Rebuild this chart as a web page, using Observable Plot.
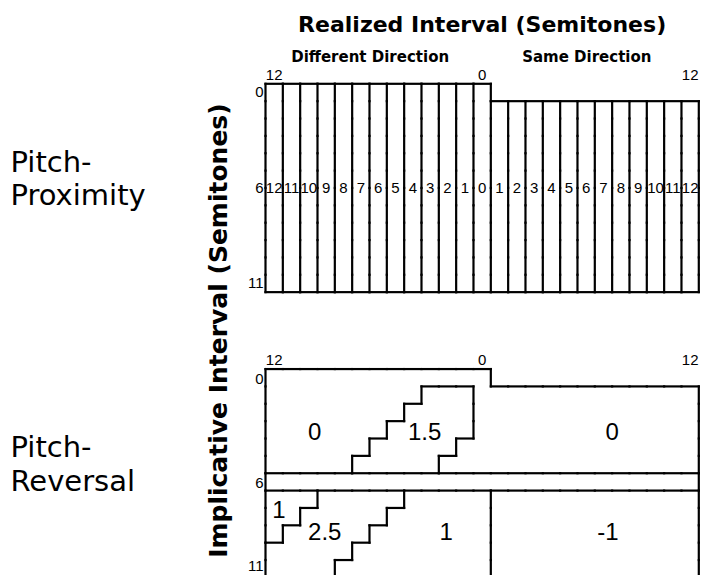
<!DOCTYPE html>
<html>
<head>
<meta charset="utf-8">
<script src="https://cdn.jsdelivr.net/npm/d3@7"></script>
<script src="https://cdn.jsdelivr.net/npm/@observablehq/plot@0.6"></script>
<style>
  body { margin: 0; background: #fff; }
</style>
</head>
<body>
<div id="chart"></div>
<script>
// ---------- data ----------
const panels = ["Pitch-Proximity", "Pitch-Reversal"];
const panelLabels = ["Pitch-\nProximity", "Pitch-\nReversal"];
const differentDirection = [12, 11, 10, 9, 8, 7, 6, 5, 4, 3, 2, 1, 0];
const sameDirection = [1, 2, 3, 4, 5, 6, 7, 8, 9, 10, 11, 12];
const implicativeIntervals = [0, 1, 2, 3, 4, 5, 6, 7, 8, 9, 10, 11];
const tritone = 6;

// Pitch-reversal: reversed realized intervals (different direction) earning the bonus
// small implicative intervals 0..5
const smallReversalLo = [null, 1, 1, 1, 2, 3];
const smallReversalHi = [null, 3, 4, 5, 6, 7];
// large implicative intervals 7..11
const largeReversalLo = [5, 6, 7, 8, 9];
const largeReversalHi = [9, 10, 11, 12, 12];
const reversalScores = { smallReversal: "1.5", smallOther: "0", largeReversal: "2.5", largeOther: "1", largeSame: "-1" };

// region value labels (direction, realized interval, implicative interval)
const regionLabelText = ["0", "1.5", "0", "1", "2.5", "1", "-1"];
const regionLabelDir = ["different", "different", "same", "different", "different", "different", "same"];
const regionLabelRealized = [9.66, 3.32, 7.5, 11.73, 9.08, 2.07, 7.25];
const regionLabelImplicative = [3.63, 3.63, 3.63, 8.15, 9.4, 9.4, 9.4];

const xTickDir = ["different", "different", "same"];
const xTickInterval = [12, 0, 12];
const yTickValues = [0, 6, 11];
const directionTitles = ["Different Direction", "Same Direction"];
const directionKeys = ["different", "same"];
const xTitle = "Realized Interval (Semitones)";
const yTitle = "Implicative Interval (Semitones)";

// ---------- layout helpers ----------
const nDiff = differentDirection.length;
const panelGap = 4.43;
const panelTop = { "Pitch-Proximity": 0, "Pitch-Reversal": implicativeIntervals.length + panelGap };
const yMax = 2 * implicativeIntervals.length + panelGap;

const columns = [
  ...differentDirection.map(v => ({ dir: "different", interval: v })),
  ...sameDirection.map(v => ({ dir: "same", interval: v }))
];
columns.forEach((c, k) => (c.k = k));
const xCenter = (dir, v) => (dir === "different" ? nDiff - 0.5 - v : nDiff - 0.5 + v);

function proximityRegion(c, i) {
  if (c.dir === "same" && i === 0) return null;
  return c.dir + c.interval;
}
function reversalRegion(c, i) {
  if (c.dir === "same" && i === 0) return null;
  if (i === tritone) return "gap";
  if (i < tritone) {
    if (c.dir === "same") return reversalScores.smallOther;
    const lo = smallReversalLo[i], hi = smallReversalHi[i];
    return lo != null && c.interval >= lo && c.interval <= hi ? reversalScores.smallReversal : reversalScores.smallOther;
  }
  if (c.dir === "same") return reversalScores.largeSame;
  const j = i - tritone - 1;
  const lo = largeReversalLo[j], hi = largeReversalHi[j];
  return c.interval >= lo && c.interval <= hi ? reversalScores.largeReversal : reversalScores.largeOther;
}

function boundaries(panel, regionFn) {
  const grid = new Map();
  for (const c of columns) for (const i of implicativeIntervals) {
    const r = regionFn(c, i);
    if (r !== null) grid.set(`${c.k},${i}`, String(r));
  }
  const t = panelTop[panel];
  const segs = [];
  for (const [key, r] of grid) {
    const [k, i] = key.split(",").map(Number);
    const right = grid.get(`${k + 1},${i}`), left = grid.get(`${k - 1},${i}`);
    const below = grid.get(`${k},${i + 1}`), above = grid.get(`${k},${i - 1}`);
    if (right !== r) segs.push({ x1: k + 1, x2: k + 1, y1: t + i, y2: t + i + 1 });
    if (left === undefined) segs.push({ x1: k, x2: k, y1: t + i, y2: t + i + 1 });
    if (below !== r) segs.push({ x1: k, x2: k + 1, y1: t + i + 1, y2: t + i + 1 });
    if (above === undefined) segs.push({ x1: k, x2: k + 1, y1: t + i, y2: t + i });
  }
  return segs;
}
const segments = [
  ...boundaries("Pitch-Proximity", proximityRegion),
  ...boundaries("Pitch-Reversal", reversalRegion)
];

const xTicks = panels.flatMap(p => xTickDir.map((d, i) => ({ panel: p, dir: d, interval: xTickInterval[i] })));
const yTicks = panels.flatMap(p => yTickValues.map(v => ({ panel: p, v })));
const regionLabels = regionLabelText.map((t, i) => ({
  text: t, dir: regionLabelDir[i], realized: regionLabelRealized[i], implicative: regionLabelImplicative[i]
}));
const dirTitles = directionTitles.map((t, i) => ({ text: t, dir: directionKeys[i] }));

function yTickPos(d) {
  if (d.panel === "Pitch-Proximity") return panelTop[d.panel] + (d.v === tritone ? d.v : d.v + 0.5);
  return panelTop[d.panel] + d.v + (d.v === 11 ? 0.38 : 0.6);
}

const WORD = "DejaVu Sans, Verdana, sans-serif";

const chart = Plot.plot({
  width: 702,
  height: 575,
  marginLeft: 265,
  marginRight: 3.7,
  marginTop: 83.3,
  marginBottom: -1.9,
  style: { fontFamily: "Liberation Sans, Arial, Helvetica, sans-serif", fontSize: "15px", color: "black", background: "white" },
  x: { domain: [0, columns.length], axis: null },
  y: { domain: [0, yMax], reverse: true, axis: null },
  marks: [
    Plot.link(segments, {
      x1: "x1", y1: "y1", x2: "x2", y2: "y2",
      stroke: "black", strokeWidth: 2.2, strokeLinecap: "square"
    }),
    // pitch-proximity values (realized interval)
    Plot.text(columns, {
      x: c => c.k + 0.5,
      y: () => panelTop["Pitch-Proximity"] + 6,
      text: c => String(c.interval),
      fontSize: 15
    }),
    // pitch-reversal region values
    Plot.text(regionLabels, {
      x: d => xCenter(d.dir, d.realized),
      y: d => panelTop["Pitch-Reversal"] + d.implicative,
      text: "text",
      fontSize: 24
    }),
    // x tick labels
    Plot.text(xTicks, {
      x: d => xCenter(d.dir, d.interval),
      y: d => panelTop[d.panel],
      text: d => String(d.interval),
      lineAnchor: "bottom",
      dy: -4,
      fontSize: 15
    }),
    // y tick labels
    Plot.text(yTicks, {
      x: () => 0,
      y: yTickPos,
      text: d => String(d.v),
      textAnchor: "end",
      dx: -2,
      fontSize: 15
    }),
    // direction titles
    Plot.text(dirTitles, {
      x: d => (d.dir === "different" ? nDiff / 2 : nDiff + sameDirection.length / 2),
      y: () => 0,
      text: "text",
      lineAnchor: "bottom",
      dx: -8,
      dy: -22,
      fontSize: 15,
      fontWeight: "bold",
      fontFamily: WORD
    }),
    // main x title
    Plot.text([xTitle], {
      frameAnchor: "top",
      text: d => d,
      lineAnchor: "bottom",
      dy: -52,
      fontSize: 22,
      fontWeight: "bold",
      fontFamily: WORD
    }),
    // y title
    Plot.text([yTitle], {
      frameAnchor: "left",
      text: d => d,
      rotate: -90,
      textAnchor: "middle",
      lineAnchor: "middle",
      dx: -47,
      fontSize: 25,
      fontWeight: "bold",
      fontFamily: WORD
    }),
    // panel names
    Plot.text(panels, {
      y: p => panelTop[p] + 6,
      frameAnchor: "left",
      text: p => panelLabels[panels.indexOf(p)],
      textAnchor: "start",
      lineHeight: 1.15,
      dx: -255,
      dy: -10,
      fontSize: 29,
      fontFamily: WORD
    })
  ]
});
document.getElementById("chart").appendChild(chart);
</script>
</body>
</html>
